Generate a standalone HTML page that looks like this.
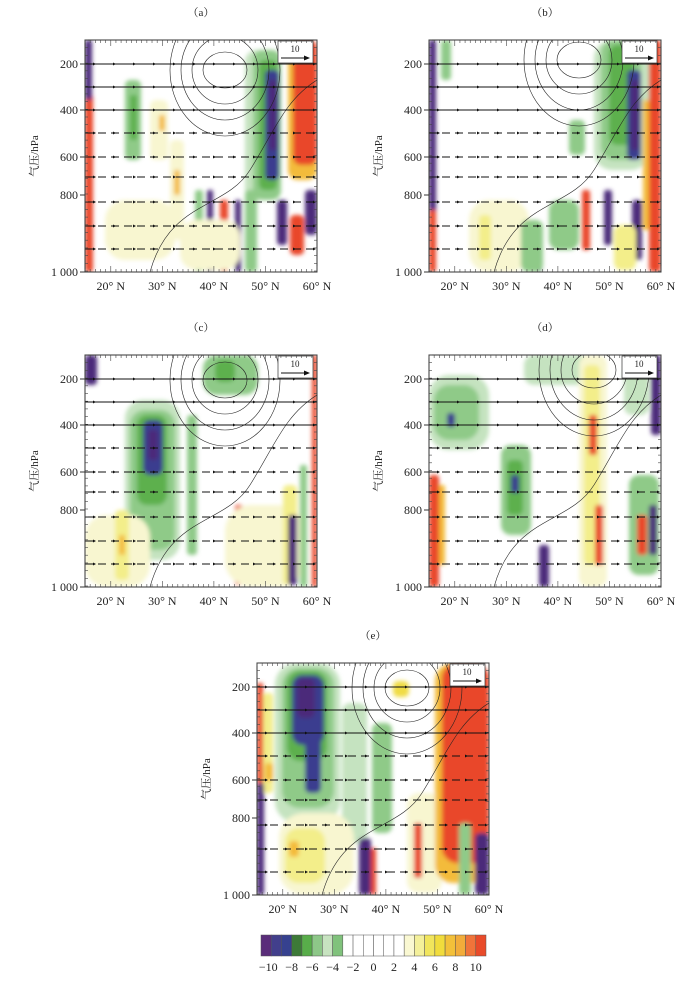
<!DOCTYPE html>
<html><head><meta charset="utf-8"><style>
body{margin:0;background:#fff;width:700px;height:986px;overflow:hidden}
svg{display:block}
text{font-family:"Liberation Serif","Noto Serif CJK SC",serif;fill:#222}
</style></head><body>
<svg id="s" width="700" height="986" xmlns="http://www.w3.org/2000/svg"></svg>
<script>
const S=document.getElementById('s');let h='';
const C={p:'#4b2a7a',b:'#3a3d8f',g1:'#3e7f3a',g2:'#5db04e',g3:'#8fca88',g4:'#c5e3c0',y1:'#f8f6d0',y2:'#f3ee8a',y3:'#f0dc45',o1:'#f3bb3a',o2:'#f07a35',r:'#e9462a'};
const levels=[24,47,70,93,117,137,162,186,209];
const panels=[
 {x:85,y:40,cx:140,cy:30,l:'（a）',blobs:[['r',0,55,8,177],['p',0,0,7,60],['g3',40,40,16,80],['g2',45,55,7,45],['y1',65,60,18,60],['o1',74,75,6,16],['y1',20,160,70,60],['y1',85,100,14,100],['o1',89,130,6,25],['g4',160,10,35,150],['g3',168,10,28,150],['g2',174,20,18,130],['b',180,30,14,110],['p',184,40,8,70],['o1',203,0,29,140],['r',208,0,24,125],['p',122,150,6,82],['g3',110,150,8,82],['r',135,160,8,72],['p',150,160,6,72],['g3',160,150,12,82],['p',192,160,10,45],['r',205,175,14,40],['p',220,150,12,45],['y1',95,180,60,50]]},
 {x:429,y:40,cx:150,cy:20,l:'（b）',blobs:[['p',0,0,7,200],['r',0,170,7,62],['y1',40,160,60,72],['y2',50,175,12,45],['g3',12,0,10,40],['g4',165,0,55,130],['g3',172,0,40,120],['g2',180,5,25,100],['g3',140,80,16,35],['b',198,30,14,90],['p',202,40,8,70],['r',220,0,12,232],['o1',214,60,6,130],['p',105,195,8,37],['g3',92,180,22,52],['p',175,150,8,55],['r',153,150,8,60],['p',203,160,10,60],['g3',120,160,30,50],['y2',185,185,22,45]]},
 {x:85,y:355,cx:140,cy:25,l:'（c）',blobs:[['p',0,0,12,30],['g4',40,45,55,160],['g3',45,55,45,140],['g2',52,60,30,90],['b',58,65,20,55],['p',63,75,10,30],['g3',118,0,55,40],['g2',130,5,20,22],['y1',0,160,65,72],['y2',30,155,14,70],['o1',34,180,6,20],['g3',102,60,10,140],['r',150,150,8,80],['p',165,160,8,72],['r',185,150,7,82],['y1',140,150,80,82],['y2',198,130,14,100],['p',203,160,9,70],['g3',215,110,7,122],['r',227,0,5,232]]},
 {x:429,y:355,cx:165,cy:15,l:'（d）',blobs:[['g4',0,20,60,75],['g3',5,30,45,55],['b',18,58,8,14],['g3',72,90,30,90],['g2',78,105,16,55],['b',82,120,8,18],['r',0,120,10,112],['o1',10,130,6,80],['g4',95,0,70,30],['y1',150,0,28,232],['y2',155,10,16,200],['r',160,60,8,40],['r',166,150,8,60],['p',222,0,10,80],['g4',195,10,25,50],['p',110,190,10,42],['g3',200,120,30,100],['r',208,160,10,40],['p',220,150,8,50]]},
 {x:257,y:663,cx:150,cy:25,l:'（e）',blobs:[['r',0,20,6,110],['y2',6,30,10,100],['o1',8,100,8,18],['p',0,120,7,112],['g4',18,0,65,160],['g3',25,5,52,140],['g2',30,8,40,90],['b',35,12,32,70],['p',40,15,18,40],['b',48,70,16,60],['g4',85,40,25,140],['g3',115,60,20,110],['y1',22,150,75,82],['y2',28,165,40,55],['o1',32,178,10,16],['p',102,175,12,57],['r',114,185,5,47],['y1',150,130,35,100],['r',157,160,8,55],['o1',178,0,54,220],['r',185,0,47,200],['p',218,170,14,62],['g3',202,160,12,72],['y3',136,18,16,16]]}
];
const xl=v=>(v-15)/45*232;
panels.forEach(P=>{
 const X=P.x,Y=P.y;
 h+=`<text x="${X+116}" y="${Y-24}" font-size="11" text-anchor="middle">${P.l}</text>`;
 h+=`<defs><clipPath id="c${X}${Y}"><rect x="${X}" y="${Y}" width="232" height="232"/></clipPath><filter id="f${X}${Y}"><feGaussianBlur stdDeviation="2"/></filter></defs>`;
 h+=`<g clip-path="url(#c${X}${Y})" filter="url(#f${X}${Y})">`;
 P.blobs.forEach(b=>{h+=`<rect x="${X+b[1]}" y="${Y+b[2]}" width="${b[3]}" height="${b[4]}" rx="${Math.min(b[3],b[4])/3}" fill="${C[b[0]]}"/>`});
 h+=`</g><g clip-path="url(#c${X}${Y})">`;
 h+=`<g fill="none" stroke="#222" stroke-width="0.6">`;
 for(let k=0;k<4;k++){h+=`<ellipse cx="${X+P.cx}" cy="${Y+P.cy}" rx="${22+k*11}" ry="${18+k*16}"/>`}
 h+=`<path d="M${X+65} ${Y+232} C${X+85} ${Y+160} ${X+140} ${Y+170} ${X+165} ${Y+130} S${X+200} ${Y+60} ${X+232} ${Y+40}"/>`;
 h+=`</g>`;
 levels.forEach((ly,i)=>{
  const yy=Y+ly;
  h+=`<line x1="${X}" y1="${yy}" x2="${X+232}" y2="${yy}" stroke="#111" stroke-width="1.1" ${i>=3?'stroke-dasharray="8 5"':''}/>`;
  for(let xx=10;xx<232;xx+=20)h+=`<path d="M${X+xx-2} ${yy-1.5}L${X+xx+1} ${yy}L${X+xx-2} ${yy+1.5}z" fill="#111"/>`;
 });
 h+=`</g>`;
 h+=`<rect x="${X+193}" y="${Y+1}" width="35" height="22" fill="#fff" stroke="#333" stroke-width="0.7"/><text x="${X+210}" y="${Y+12}" font-size="9" text-anchor="middle">10</text><line x1="${X+196}" y1="${Y+18}" x2="${X+222}" y2="${Y+18}" stroke="#111"/><path d="M${X+219} ${Y+15.5}L${X+225} ${Y+18}L${X+219} ${Y+20.5}z" fill="#111"/>`;
 h+=`<rect x="${X}" y="${Y}" width="232" height="232" fill="none" stroke="#333" stroke-width="1"/>`;
 for(let lat=15;lat<=60;lat++){const tx=X+xl(lat);const L=lat%10==0?6:3;h+=`<line x1="${tx}" y1="${Y}" x2="${tx}" y2="${Y+L}" stroke="#444" stroke-width="0.6"/><line x1="${tx}" y1="${Y+232}" x2="${tx}" y2="${Y+232-L}" stroke="#444" stroke-width="0.6"/>`}
 for(let ty=0;ty<=232;ty+=7.7){h+=`<line x1="${X}" y1="${Y+ty}" x2="${X+3}" y2="${Y+ty}" stroke="#444" stroke-width="0.6"/><line x1="${X+232}" y1="${Y+ty}" x2="${X+229}" y2="${Y+ty}" stroke="#444" stroke-width="0.6"/>`}
 [[24,'200'],[70,'400'],[117,'600'],[155,'800'],[232,'1 000']].forEach(a=>{h+=`<line x1="${X-5}" y1="${Y+a[0]}" x2="${X}" y2="${Y+a[0]}" stroke="#333"/><text x="${X-7}" y="${Y+a[0]+4}" font-size="12" text-anchor="end">${a[1]}</text>`});
 [20,30,40,50,60].forEach(v=>{h+=`<text x="${X+xl(v)}" y="${Y+250}" font-size="12" text-anchor="middle">${v}° N</text>`});
 h+=`<text transform="translate(${X-47},${Y+116}) rotate(-90)" font-size="11" text-anchor="middle">气压/hPa</text>`;
});
const cols=['#5a2d7a','#423f8c','#36418f','#3d7a38','#58ad4a','#8dc788','#c7e3c0','#80c27c','#fff','#fff','#fff','#fff','#fff','#fff','#faf8d2','#f4f09a','#f1e55c','#f1dc3c','#f3c039','#f2ac3a','#f0743a','#e94b2a'];
const cx=261,cw=225/22;
cols.forEach((c,i)=>{h+=`<rect x="${cx+i*cw}" y="935" width="${cw}" height="21" fill="${c}" stroke="#555" stroke-width="0.5"/>`});
['−10','−8','−6','−4','−2','0','2','4','6','8','10'].forEach((t,i)=>{h+=`<text x="${cx+cw*(i*2+1)+(i==0?-3:0)}" y="971" font-size="12" text-anchor="middle">${t}</text>`});
S.innerHTML=h;
</script>
</body></html>
